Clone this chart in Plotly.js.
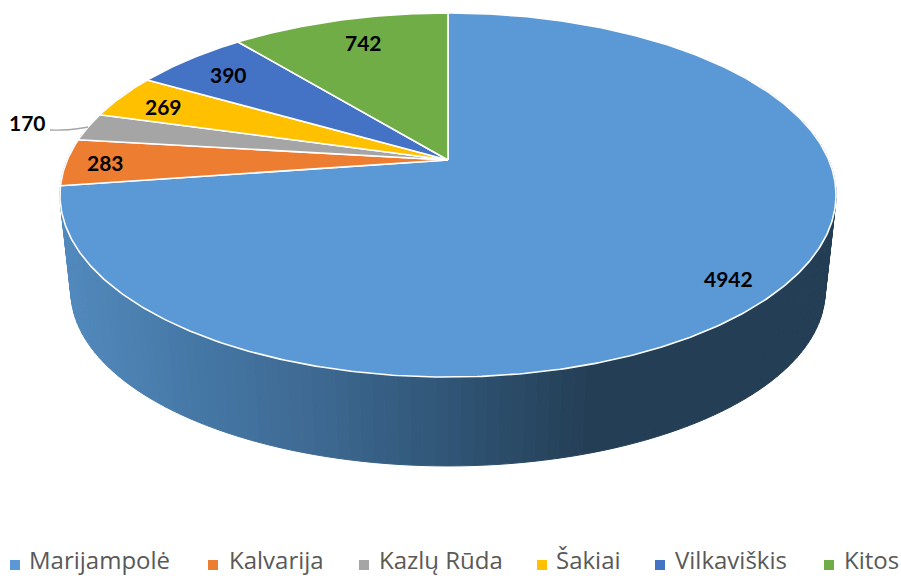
<!DOCTYPE html>
<html><head><meta charset="utf-8">
<script src="https://cdn.plot.ly/plotly-3.0.1.min.js"></script>
<style>html,body{margin:0;padding:0;background:#fff;overflow:hidden}#c{width:901px;height:576px}</style>
</head><body><div id="c"></div>
<script>
const categories = ["Marijampolė","Kalvarija","Kazlų Rūda","Šakiai","Vilkaviškis","Kitos"];
const values = [4942,283,170,269,390,742];
const colors = ["#5b99d6","#ed7d31","#a5a5a5","#ffc000","#4472c4","#70ad47"];
const labelX = [728,105,27,163,228,363];
const labelY = [278,162,122,106,74,42];
const legendSwatchX = [15,213,364,542,660,829];
const legendTextX = [28,228,378,555,674,843];
const legendY = 565;

// Projection of the tilted disc onto the page
const cx=448, cy=160, R=380.8, A=175.3, K=0.1923;
function rimTop(t){const u=Math.sin(t), v=-Math.cos(t), w=1-K*v; return [cx+R*u/w, cy+A*v/w];}
function rimBottom(t){const p=rimTop(t); return [448+(p[0]-448)*0.972, 291+(p[1]-195)*0.961];}

const stops=[[60,[82,138,190]],[200,[69,119,165]],[320,[61,104,145]],[448,[48,85,118]],[590,[36,62,85]],[901,[36,62,85]]];
function wallColor(x){
  for(let i=1;i<stops.length;i++){ if(x<=stops[i][0]){
    const a=stops[i-1],b=stops[i],f=Math.max(0,(x-a[0])/(b[0]-a[0]));
    return 'rgb('+a[1].map((c,j)=>Math.round(c+(b[1][j]-c)*f)).join(',')+')';
  }}
  return 'rgb(36,62,85)';
}
const traces=[];
// side wall
const N=150, t0=Math.PI*0.35, t1=Math.PI*1.65;
for(let i=0;i<N;i++){
  const a=t0+(t1-t0)*i/N, b=t0+(t1-t0)*(i+1)/N;
  const p=rimTop(a),q=rimTop(b),r=rimBottom(b),s=rimBottom(a);
  const col=wallColor((p[0]+q[0]+r[0]+s[0])/4);
  traces.push({type:'scatter',mode:'lines',x:[p[0],q[0],r[0],s[0],p[0]],y:[p[1],q[1],r[1],s[1],p[1]],
    fill:'toself',fillcolor:col,line:{color:col,width:1},hoverinfo:'skip',showlegend:false});
}
// top slices from the values
const total=values.reduce((a,b)=>a+b,0);
let acc=0;
values.forEach((v,i)=>{
  const a=acc/total*2*Math.PI, b=(acc+v)/total*2*Math.PI; acc+=v;
  const xs=[cx], ys=[cy], n=Math.max(4,Math.ceil((b-a)/0.01));
  for(let k=0;k<=n;k++){const p=rimTop(a+(b-a)*k/n); xs.push(p[0]); ys.push(p[1]);}
  xs.push(cx); ys.push(cy);
  traces.push({type:'scatter',mode:'lines',x:xs,y:ys,fill:'toself',fillcolor:colors[i],
    line:{color:'#ffffff',width:1.6},name:categories[i],text:categories[i]+': '+v,hoverinfo:'text',showlegend:false});
});
// leader line
traces.push({type:'scatter',mode:'lines',x:[50,62,75,88],y:[130,130,129,127],line:{color:'#a6a6a6',width:1.3,shape:'spline'},hoverinfo:'skip',showlegend:false});
// legend swatches
traces.push({type:'scatter',mode:'markers',x:legendSwatchX,y:categories.map(()=>legendY),
  marker:{symbol:'square',size:10,color:colors,line:{width:0}},hoverinfo:'skip',showlegend:false});
const valueNotes=values.map((v,i)=>({x:labelX[i],y:labelY[i],xref:'x',yref:'y',text:'<b>'+v+'</b>',showarrow:false,
    font:{family:'Lato, sans-serif',size:21,color:'#000'}}));
const legendNotes=categories.map((c,i)=>({x:legendTextX[i],y:legendY-6,xref:'x',yref:'y',xanchor:'left',text:c,showarrow:false,borderpad:0,
    font:{family:'Open Sans, sans-serif',size:24,color:'#595959'}}));
const layout={
  width:901,height:576,margin:{l:0,r:0,t:0,b:0,pad:0},
  paper_bgcolor:'#fff',plot_bgcolor:'#fff',
  xaxis:{range:[0,901],visible:false,fixedrange:true},
  yaxis:{range:[576,0],visible:false,fixedrange:true},
  showlegend:false,
  annotations:valueNotes.concat(legendNotes)
};
Plotly.newPlot('c',traces,layout,{displayModeBar:false});
</script></body></html>
